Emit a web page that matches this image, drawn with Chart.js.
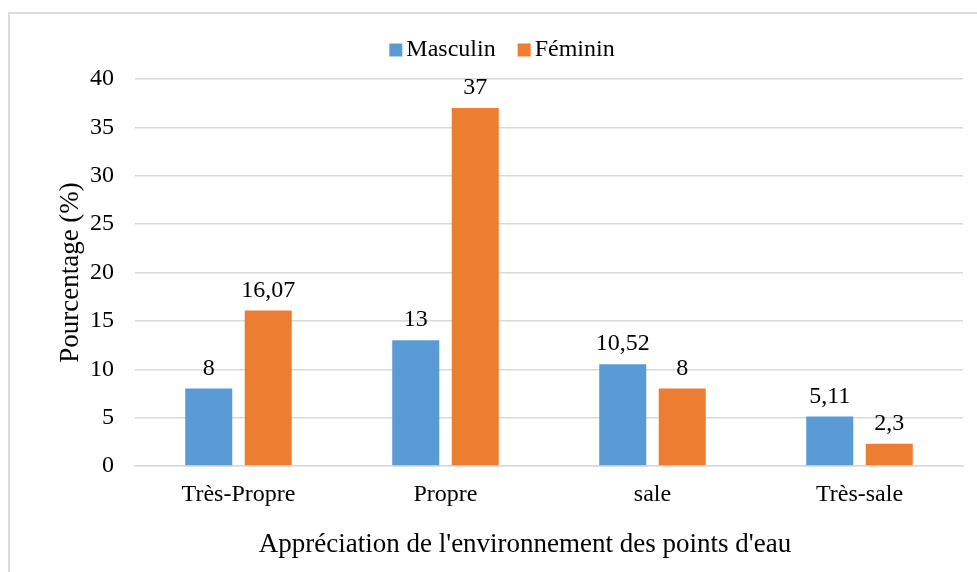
<!DOCTYPE html>
<html lang="fr">
<head>
    <meta charset="UTF-8">
    <title>Appréciation de l'environnement des points d'eau</title>
    <script src="https://cdn.jsdelivr.net/npm/chart.js"></script>
    <style>
        body { margin: 0; background: #fff; overflow: hidden; }
        .frame {
            position: absolute;
            left: 8px; top: 12px;
            width: 1000px; height: 600px;
            border: 2px solid #dcdcdc;
        }
        .chart-container {
            position: absolute;
            left: 0; top: 0;
            width: 977px; height: 572px;
        }
    </style>
</head>
<body>
    <div class="frame"></div>
    <div class="chart-container">
        <canvas id="chart"></canvas>
    </div>

    <script>
        const categories = ['Très-Propre', 'Propre', 'sale', 'Très-sale'];
        const masculin = [8, 13, 10.52, 5.11];
        const feminin = [16.07, 37, 8, 2.3];
        const yTicks = [0, 5, 10, 15, 20, 25, 30, 35, 40];

        const blue = '#5B9BD5';
        const orange = '#ED7D31';
        const serif = "'Liberation Serif', 'Times New Roman', serif";

        const fmt = v => String(v).replace('.', ',');

        // values above the bars, with a French decimal comma
        const barLabels = {
            id: 'barLabels',
            afterDatasetsDraw(chart) {
                const ctx = chart.ctx;
                ctx.save();
                ctx.font = '24px ' + serif;
                ctx.fillStyle = '#000';
                ctx.textAlign = 'center';
                ctx.textBaseline = 'alphabetic';
                chart.data.datasets.forEach((ds, i) => {
                    chart.getDatasetMeta(i).data.forEach((bar, j) => {
                        ctx.fillText(fmt(ds.data[j]), bar.x, bar.y - 14);
                    });
                });
                ctx.restore();
            }
        };

        // legend and x title drawn by hand to match the spacing of the original
        const extras = {
            id: 'extras',
            afterDraw(chart) {
                const ctx = chart.ctx;
                ctx.save();
                ctx.font = '24px ' + serif;
                ctx.fillStyle = '#000';
                ctx.textBaseline = 'middle';
                const items = chart.data.datasets.map(ds => ({ label: ds.label, color: ds.backgroundColor }));
                const box = 13, gap = 4, spacing = 22;
                let total = 0;
                items.forEach((it, k) => {
                    it.w = ctx.measureText(it.label).width;
                    total += box + gap + it.w + (k ? spacing : 0);
                });
                let x = 502 - total / 2;
                const y = 50;
                items.forEach(it => {
                    ctx.fillStyle = it.color;
                    ctx.fillRect(x, y - box / 2, box, box);
                    ctx.fillStyle = '#000';
                    ctx.textAlign = 'left';
                    ctx.fillText(it.label, x + box + gap, y);
                    x += box + gap + it.w + spacing;
                });

                ctx.font = '27px ' + serif;
                ctx.textAlign = 'center';
                ctx.fillText("Appréciation de l'environnement des points d'eau", 525, 545);
                ctx.restore();
            }
        };

        new Chart(document.getElementById('chart'), {
            type: 'bar',
            data: {
                labels: categories,
                datasets: [
                    { label: 'Masculin', data: masculin, backgroundColor: blue },
                    { label: 'Féminin', data: feminin, backgroundColor: orange }
                ]
            },
            options: {
                responsive: true,
                maintainAspectRatio: false,
                animation: false,
                devicePixelRatio: 1,
                layout: { padding: { top: 79, right: 14, bottom: 0, left: 0 } },
                categoryPercentage: 0.575,
                barPercentage: 0.79,
                plugins: {
                    legend: { display: false },
                    tooltip: { enabled: false }
                },
                scales: {
                    x: {
                        afterFit: s => { s.height = 106; },
                        grid: { display: false, drawTicks: false },
                        border: { color: '#d9d9d9', width: 1.5 },
                        ticks: {
                            padding: 14,
                            color: '#000',
                            font: { family: serif, size: 24 }
                        }
                    },
                    y: {
                        min: 0,
                        max: 40,
                        afterFit: s => { s.width = 135; },
                        afterBuildTicks: s => { s.ticks = yTicks.map(v => ({ value: v })); },
                        grid: { color: '#d9d9d9', lineWidth: 1.5, drawTicks: false },
                        border: { display: false },
                        ticks: {
                            padding: 21,
                            color: '#000',
                            font: { family: serif, size: 24 }
                        },
                        title: {
                            display: true,
                            text: 'Pourcentage (%)',
                            color: '#000',
                            font: { family: serif, size: 27 },
                            padding: { top: 55, bottom: 0 }
                        }
                    }
                }
            },
            plugins: [barLabels, extras]
        });
    </script>
</body>
</html>
